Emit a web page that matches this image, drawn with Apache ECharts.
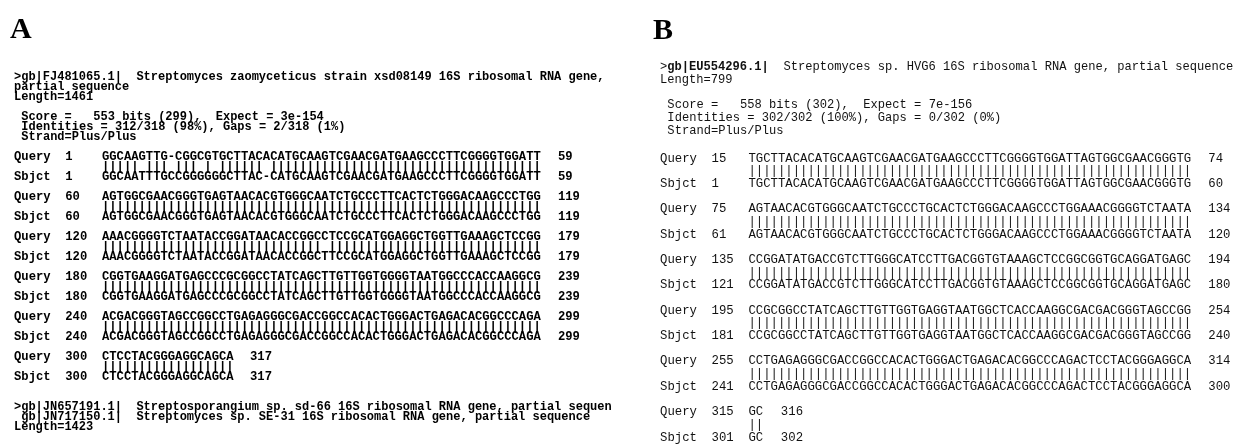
<!DOCTYPE html>
<html><head><meta charset="utf-8">
<script src="https://cdn.jsdelivr.net/npm/echarts@6/dist/echarts.min.js"></script>
<style>html,body{margin:0;padding:0;background:#fff}#c{width:1245px;height:447px}</style>
</head><body><div id="c"></div><script>
// ---------- Panel A data ----------
const A_hit = [
  ">gb|FJ481065.1|  Streptomyces zaomyceticus strain xsd08149 16S ribosomal RNA gene,",
  "partial sequence",
  "Length=1461"
];
const A_stats = [
  "Score =   553 bits (299),  Expect = 3e-154",
  "Identities = 312/318 (98%), Gaps = 2/318 (1%)",
  "Strand=Plus/Plus"
];
const A_query = [
  "GGCAAGTTG-CGGCGTGCTTACACATGCAAGTCGAACGATGAAGCCCTTCGGGGTGGATT",
  "AGTGGCGAACGGGTGAGTAACACGTGGGCAATCTGCCCTTCACTCTGGGACAAGCCCTGG",
  "AAACGGGGTCTAATACCGGATAACACCGGCCTCCGCATGGAGGCTGGTTGAAAGCTCCGG",
  "CGGTGAAGGATGAGCCCGCGGCCTATCAGCTTGTTGGTGGGGTAATGGCCCACCAAGGCG",
  "ACGACGGGTAGCCGGCCTGAGAGGGCGACCGGCCACACTGGGACTGAGACACGGCCCAGA",
  "CTCCTACGGGAGGCAGCA"
];
const A_sbjct = [
  "GGCAATTTGCCGGGGGGCTTAC-CATGCAAGTCGAACGATGAAGCCCTTCGGGGTGGATT",
  "AGTGGCGAACGGGTGAGTAACACGTGGGCAATCTGCCCTTCACTCTGGGACAAGCCCTGG",
  "AAACGGGGTCTAATACCGGATAACACCGGCTTCCGCATGGAGGCTGGTTGAAAGCTCCGG",
  "CGGTGAAGGATGAGCCCGCGGCCTATCAGCTTGTTGGTGGGGTAATGGCCCACCAAGGCG",
  "ACGACGGGTAGCCGGCCTGAGAGGGCGACCGGCCACACTGGGACTGAGACACGGCCCAGA",
  "CTCCTACGGGAGGCAGCA"
];
const A_qStart = [1, 60, 120, 180, 240, 300];
const A_qEnd   = [59, 119, 179, 239, 299, 317];
const A_sStart = [1, 60, 120, 180, 240, 300];
const A_sEnd   = [59, 119, 179, 239, 299, 317];
const A_next = [
  ">gb|JN657191.1|  Streptosporangium sp. sd-66 16S ribosomal RNA gene, partial sequen",
  " gb|JN717150.1|  Streptomyces sp. SE-31 16S ribosomal RNA gene, partial sequence",
  "Length=1423"
];

// ---------- Panel B data ----------
const B_hit = [
  ">gb|EU554296.1|  Streptomyces sp. HVG6 16S ribosomal RNA gene, partial sequence",
  "Length=799"
];
const B_stats = [
  "Score =   558 bits (302),  Expect = 7e-156",
  "Identities = 302/302 (100%), Gaps = 0/302 (0%)",
  "Strand=Plus/Plus"
];
const B_query = [
  "TGCTTACACATGCAAGTCGAACGATGAAGCCCTTCGGGGTGGATTAGTGGCGAACGGGTG",
  "AGTAACACGTGGGCAATCTGCCCTGCACTCTGGGACAAGCCCTGGAAACGGGGTCTAATA",
  "CCGGATATGACCGTCTTGGGCATCCTTGACGGTGTAAAGCTCCGGCGGTGCAGGATGAGC",
  "CCGCGGCCTATCAGCTTGTTGGTGAGGTAATGGCTCACCAAGGCGACGACGGGTAGCCGG",
  "CCTGAGAGGGCGACCGGCCACACTGGGACTGAGACACGGCCCAGACTCCTACGGGAGGCA",
  "GC"
];
const B_sbjct = [
  "TGCTTACACATGCAAGTCGAACGATGAAGCCCTTCGGGGTGGATTAGTGGCGAACGGGTG",
  "AGTAACACGTGGGCAATCTGCCCTGCACTCTGGGACAAGCCCTGGAAACGGGGTCTAATA",
  "CCGGATATGACCGTCTTGGGCATCCTTGACGGTGTAAAGCTCCGGCGGTGCAGGATGAGC",
  "CCGCGGCCTATCAGCTTGTTGGTGAGGTAATGGCTCACCAAGGCGACGACGGGTAGCCGG",
  "CCTGAGAGGGCGACCGGCCACACTGGGACTGAGACACGGCCCAGACTCCTACGGGAGGCA",
  "GC"
];
const B_qStart = [15, 75, 135, 195, 255, 315];
const B_qEnd   = [74, 134, 194, 254, 314, 316];
const B_sStart = [1, 61, 121, 181, 241, 301];
const B_sEnd   = [60, 120, 180, 240, 300, 302];

// ---------- layout ----------
function buildPanel(p) {
  const items = [];
  p.hit.forEach((t, i) => items.push({ col: 0, row: i, text: t, kind: 'head' }));
  p.stats.forEach((t, i) => items.push({ col: 1, row: p.statsRow + i, text: t, kind: 'stat' }));
  p.query.forEach((q, i) => {
    const r = p.seqRow + 4 * i;
    const s = p.sbjct[i];
    const m = q.split('').map((c, k) => (c === s[k] && c !== '-') ? '|' : ' ').join('');
    const endCol = 12 + q.length + p.endGap;
    items.push({ col: 0, row: r, text: 'Query', kind: 'seq' });
    items.push({ col: 7, row: r, text: String(p.qStart[i]), kind: 'seq' });
    items.push({ col: 12, row: r, text: q, kind: 'seq' });
    items.push({ col: endCol, row: r, text: String(p.qEnd[i]), kind: 'seq' });
    items.push({ col: 12, row: r + 1, text: m, kind: 'seq' });
    items.push({ col: 0, row: r + 2, text: 'Sbjct', kind: 'seq' });
    items.push({ col: 7, row: r + 2, text: String(p.sStart[i]), kind: 'seq' });
    items.push({ col: 12, row: r + 2, text: s, kind: 'seq' });
    items.push({ col: endCol, row: r + 2, text: String(p.sEnd[i]), kind: 'seq' });
  });
  (p.next || []).forEach((t, i) => items.push({ col: 0, row: p.nextRow + i, text: t, kind: 'head' }));
  return items;
}

const panels = [
  { hit: A_hit, stats: A_stats, statsRow: 4, query: A_query, sbjct: A_sbjct,
    qStart: A_qStart, qEnd: A_qEnd, sStart: A_sStart, sEnd: A_sEnd,
    seqRow: 8, endGap: 2.2, next: A_next, nextRow: 33,
    weight: 'bold', idWeight: 'bold', seqSize: 12.2, headSize: 12, color: '#000' },
  { hit: B_hit, stats: B_stats, statsRow: 3, query: B_query, sbjct: B_sbjct,
    qStart: B_qStart, qEnd: B_qEnd, sStart: B_sStart, sEnd: B_sEnd,
    seqRow: 7.2, endGap: 2.4, next: [], nextRow: 0,
    weight: 'normal', idWeight: 'bold', seqSize: 12.3, headSize: 12.1, color: '#111' }
];
const panelItems = panels.map(buildPanel);

function makeSeries(pi) {
  const p = panels[pi];
  const items = panelItems[pi];
  return {
    type: 'custom',
    coordinateSystem: 'cartesian2d',
    xAxisIndex: pi, yAxisIndex: pi,
    silent: true, clip: false,
    data: items.map(it => [it.col, it.row]),
    renderItem: function (params, api) {
      const it = items[params.dataIndex];
      const pt = api.coord([api.value(0), api.value(1)]);
      const fam = '"Liberation Mono", "DejaVu Sans Mono", monospace';
      const size = it.kind === 'seq' ? p.seqSize : p.headSize;
      const style = {
        x: pt[0], y: pt[1], fill: p.color, align: 'left', verticalAlign: 'middle',
        fontFamily: fam, fontSize: size, fontWeight: p.weight
      };
      const mm = it.kind === 'head' ? it.text.match(/^(>?)( ?gb\|[^|]+\|)(.*)$/) : null;
      if (mm) {
        const esc = s => s.replace(/[{}]/g, '');
        style.text = (mm[1] ? '{n|' + mm[1] + '}' : '') + '{b|' + mm[2] + '}{n|' + esc(mm[3]) + '}';
        style.rich = {
          n: { fontFamily: fam, fontSize: size, fontWeight: p.weight, fill: p.color },
          b: { fontFamily: fam, fontSize: size, fontWeight: p.idWeight, fill: p.color }
        };
      } else {
        style.text = it.text;
      }
      return { type: 'text', style: style };
    }
  };
}

const chart = echarts.init(document.getElementById('c'), null, { renderer: 'canvas' });
chart.setOption({
  animation: false,
  backgroundColor: '#fff',
  title: [
    { text: 'A', left: 10, top: 15, padding: 0,
      textStyle: { fontFamily: '"Liberation Serif", serif', fontWeight: 'bold', fontSize: 30, color: '#000' } },
    { text: 'B', left: 653, top: 16, padding: 0,
      textStyle: { fontFamily: '"Liberation Serif", serif', fontWeight: 'bold', fontSize: 30, color: '#000' } }
  ],
  grid: [
    { left: 14, top: 67, width: 84 * 7.33, height: 37 * 10, outerBoundsMode: 'none', containLabel: false },
    { left: 660, top: 67 - 12.68, width: 80 * 7.37, height: 31 * 12.68, outerBoundsMode: 'none', containLabel: false }
  ],
  xAxis: [
    { gridIndex: 0, type: 'value', min: 0, max: 84, show: false },
    { gridIndex: 1, type: 'value', min: 0, max: 80, show: false }
  ],
  yAxis: [
    { gridIndex: 0, type: 'value', min: -1, max: 36, inverse: true, show: false },
    { gridIndex: 1, type: 'value', min: -1, max: 30, inverse: true, show: false }
  ],
  series: [makeSeries(0), makeSeries(1)]
});
</script></body></html>
